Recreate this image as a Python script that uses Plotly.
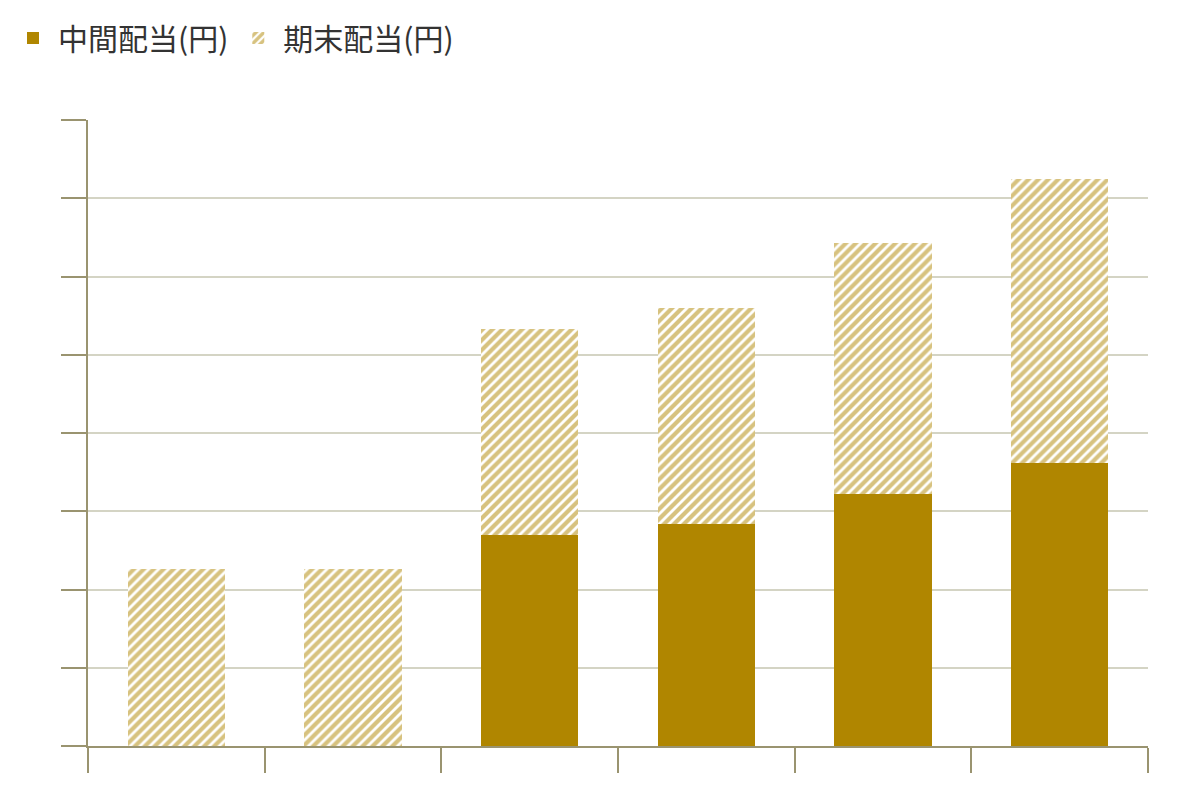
import plotly.graph_objects as go

years = ["1", "2", "3", "4", "5", "6"]
interim = [0, 0, 27.0, 28.4, 32.2, 36.2]
final = [22.6, 22.6, 26.3, 27.6, 32.1, 36.2]

gold = "#b08600"
axis_col = "#9a9470"

xs = list(range(len(years)))

fig = go.Figure()
fig.add_trace(go.Bar(x=xs, y=interim, name="中間配当(円)", width=0.55,
                     marker=dict(color=gold, line=dict(width=0))))
fig.add_trace(go.Bar(x=xs, y=final, name="期末配当(円)", width=0.55,
                     marker=dict(color="white", line=dict(width=0),
                                 pattern=dict(shape="/", fgcolor=gold, bgcolor="white",
                                              size=7, solidity=0.6))))

fig.update_layout(
    barmode="stack",
    width=1200, height=800,
    margin=dict(l=80, r=60, t=112, b=62, autoexpand=False),
    paper_bgcolor="white", plot_bgcolor="white",
    font=dict(family="Noto Sans CJK JP", size=30, color="#333333"),
    legend=dict(orientation="h", xref="container", yref="container",
                x=0.0, y=0.995, xanchor="left", yanchor="top",
                font=dict(size=30), itemsizing="constant", itemwidth=40,
                traceorder="normal"),
    xaxis=dict(range=[-0.5, 5.5], tickvals=[i - 0.5 for i in range(7)], showticklabels=False,
               ticks="outside", ticklen=25, tickwidth=2, tickcolor=axis_col, automargin=False,
               showline=True, linecolor=axis_col, linewidth=2, showgrid=False, zeroline=False),
    yaxis=dict(range=[0, 80], dtick=10, showticklabels=False, automargin=False,
               ticks="outside", ticklen=25, tickwidth=2, tickcolor=axis_col,
               showline=True, linecolor=axis_col, linewidth=2,
               showgrid=True, gridcolor="#d4d4c4", gridwidth=2, zeroline=False),
)

fig.write_html("out.html")
